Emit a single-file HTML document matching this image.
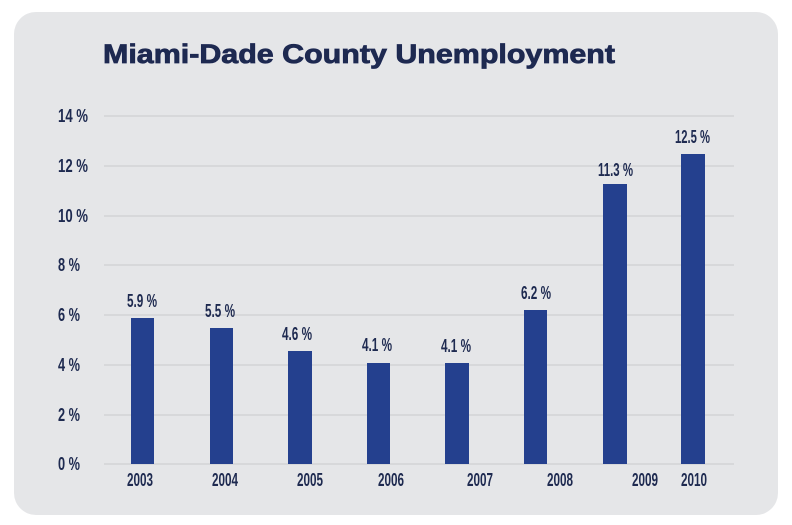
<!DOCTYPE html>
<html><head><style>
body{margin:0;background:#fff;width:792px;height:525px;overflow:hidden}
svg{display:block}
text{font-family:"Liberation Sans",sans-serif;fill:#1e2a50;font-weight:bold}
</style></head><body>
<svg width="792" height="525" viewBox="0 0 792 525">
<rect x="14" y="12" width="764" height="503" rx="22" fill="#e5e6e8"/>
<text x="103" y="63" font-size="27" font-weight="900" fill="#1c2752" textLength="512" lengthAdjust="spacingAndGlyphs" stroke="#1c2752" stroke-width="0.8">Miami-Dade County Unemployment</text>
<g stroke="#c9cacc" stroke-width="1">
<line x1="104" x2="734" y1="116" y2="116"/>
<line x1="104" x2="734" y1="166" y2="166"/>
<line x1="104" x2="734" y1="216" y2="216"/>
<line x1="104" x2="734" y1="265" y2="265"/>
<line x1="104" x2="734" y1="315" y2="315"/>
<line x1="104" x2="734" y1="365" y2="365"/>
<line x1="104" x2="734" y1="415" y2="415"/>
<line x1="104" x2="734" y1="464" y2="464"/>
</g>
<g font-size="18" text-anchor="start">
<text x="58" y="122" textLength="30" lengthAdjust="spacingAndGlyphs">14 %</text>
<text x="58" y="172" textLength="30" lengthAdjust="spacingAndGlyphs">12 %</text>
<text x="58" y="222" textLength="30" lengthAdjust="spacingAndGlyphs">10 %</text>
<text x="58" y="271" textLength="22" lengthAdjust="spacingAndGlyphs">8 %</text>
<text x="58" y="321" textLength="22" lengthAdjust="spacingAndGlyphs">6 %</text>
<text x="58" y="371" textLength="22" lengthAdjust="spacingAndGlyphs">4 %</text>
<text x="58" y="421" textLength="22" lengthAdjust="spacingAndGlyphs">2 %</text>
<text x="58" y="470" textLength="22" lengthAdjust="spacingAndGlyphs">0 %</text>
</g>
<g fill="#24408e">
<rect x="131" y="318" width="23" height="146"/>
<rect x="210" y="328" width="23" height="136"/>
<rect x="288" y="351" width="24" height="113"/>
<rect x="367" y="363" width="23" height="101"/>
<rect x="445" y="363" width="24" height="101"/>
<rect x="524" y="310" width="23" height="154"/>
<rect x="603" y="184" width="24" height="280"/>
<rect x="681" y="154" width="24" height="310"/>
</g>
<g font-size="18">
<text x="127" y="307" textLength="30" lengthAdjust="spacingAndGlyphs">5.9 %</text>
<text x="205" y="317" textLength="30" lengthAdjust="spacingAndGlyphs">5.5 %</text>
<text x="282" y="340" textLength="30" lengthAdjust="spacingAndGlyphs">4.6 %</text>
<text x="362" y="351" textLength="30" lengthAdjust="spacingAndGlyphs">4.1 %</text>
<text x="441" y="352" textLength="30" lengthAdjust="spacingAndGlyphs">4.1 %</text>
<text x="521" y="299" textLength="30" lengthAdjust="spacingAndGlyphs">6.2 %</text>
<text x="598" y="176" textLength="35" lengthAdjust="spacingAndGlyphs">11.3 %</text>
<text x="675" y="143" textLength="35" lengthAdjust="spacingAndGlyphs">12.5 %</text>
</g>
<g font-size="18">
<text x="127" y="486" textLength="26" lengthAdjust="spacingAndGlyphs">2003</text>
<text x="212" y="486" textLength="26" lengthAdjust="spacingAndGlyphs">2004</text>
<text x="297" y="486" textLength="26" lengthAdjust="spacingAndGlyphs">2005</text>
<text x="378" y="486" textLength="26" lengthAdjust="spacingAndGlyphs">2006</text>
<text x="467" y="486" textLength="26" lengthAdjust="spacingAndGlyphs">2007</text>
<text x="547" y="486" textLength="26" lengthAdjust="spacingAndGlyphs">2008</text>
<text x="632" y="486" textLength="26" lengthAdjust="spacingAndGlyphs">2009</text>
<text x="681" y="486" textLength="26" lengthAdjust="spacingAndGlyphs">2010</text>
</g>
</svg>
</body></html>
